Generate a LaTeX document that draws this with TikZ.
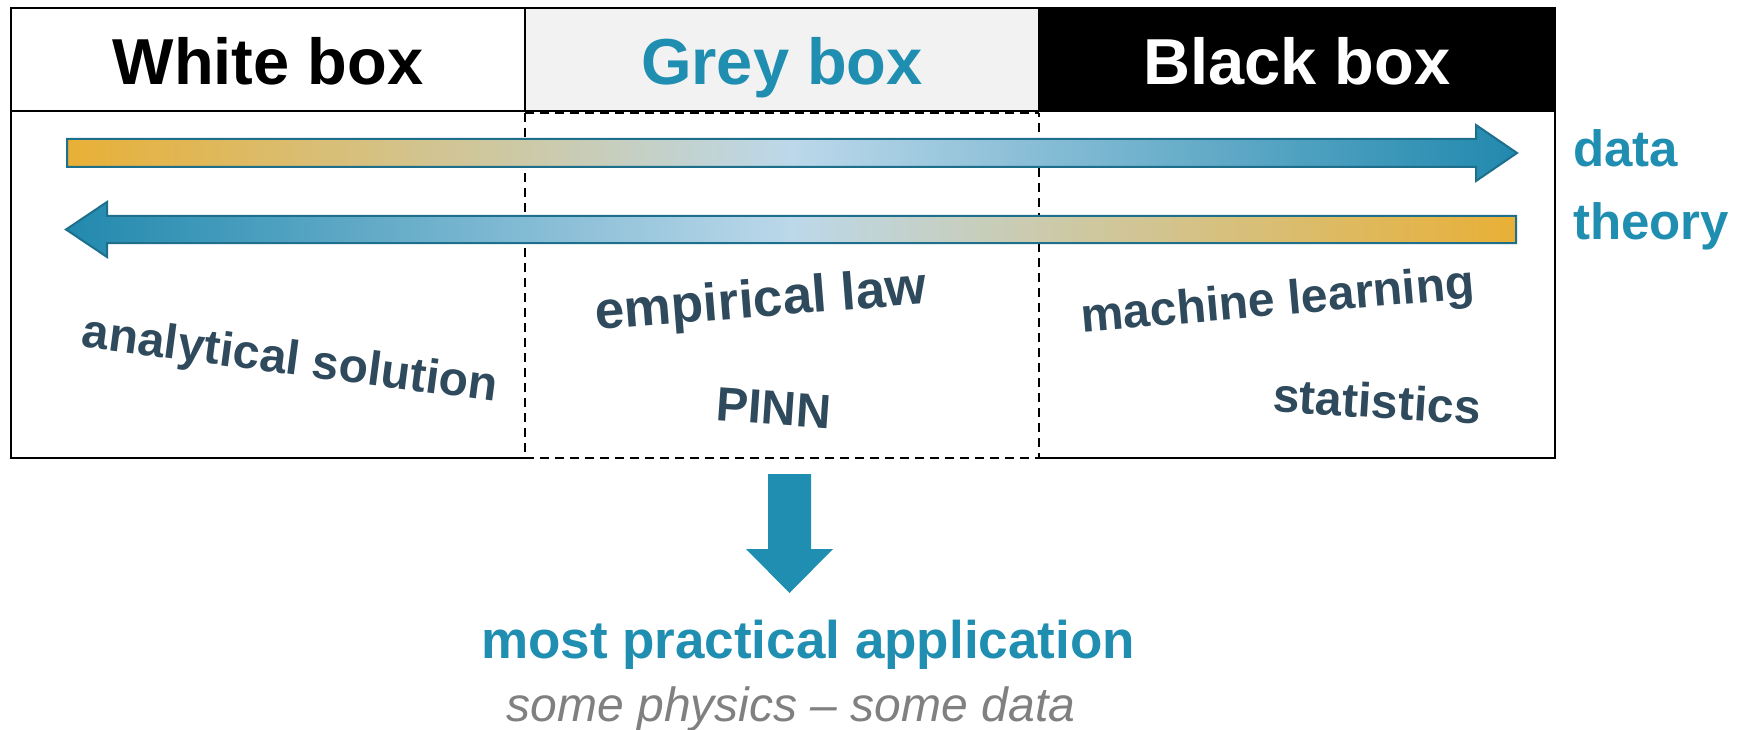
\documentclass[tikz,border=0pt]{standalone}
\usepackage{fontspec}
\setmainfont{Liberation Sans}
\definecolor{accent}{HTML}{1F8EB1}
\definecolor{slate}{HTML}{2E4A5C}
\definecolor{ochre}{HTML}{E8B036}
\definecolor{mist}{HTML}{BCD8EA}
\definecolor{deepsea}{HTML}{2189AE}
\definecolor{rim}{HTML}{1D6F8C}
\definecolor{paper}{HTML}{F2F2F2}
\definecolor{note}{HTML}{808080}
\tikzset{
  frame/.style={line width=2pt, black},
  divider/.style={line width=2pt, black, dash pattern=on 9pt off 6pt},
  headtext/.style={font=\fontsize{65}{78}\selectfont\bfseries, anchor=base, inner sep=0pt},
  sidetext/.style={font=\fontsize{51}{60}\selectfont\bfseries, text=accent, anchor=base west, inner sep=0pt},
  method/.style={font=\fontsize{48}{56}\selectfont\bfseries, text=slate, inner sep=0pt},
  flowarrow/.style={line width=2pt, draw=rim, line join=miter},
}
\begin{document}
\begin{tikzpicture}[x=1pt, y=-1pt]
\useasboundingbox (0,0) rectangle (1745,730);

% header cells
\fill[paper] (525,8) rectangle (1039,111);
\fill[black] (1039,8) rectangle (1555,111);
\node[headtext] (white) at (268,85) {White box};
\node[headtext, text=accent] (grey) at (782,85) {Grey box};
\node[headtext, text=white] (black) at (1297,85) {Black box};

% solid frame
\draw[frame] (525,458) -- (11,458) -- (11,8) -- (1555,8) -- (1555,458) -- (1039,458);
\draw[frame] (11,111) -- (1555,111);
\draw[frame] (525,8) -- (525,111);
\draw[frame] (1039,8) -- (1039,111);

% dashed grey-box body
\draw[divider] (525,113) -- (525,458) -- (1039,458) -- (1039,113);
\draw[divider] (525,113) -- (1039,113);

% data arrow (left to right)
\shadedraw[flowarrow, left color=ochre, right color=deepsea, middle color=mist]
  (67,139) -- (1476,139) -- (1476,125) -- (1517,153) -- (1476,181)
  -- (1476,167) -- (67,167) -- cycle;
% theory arrow (right to left)
\shadedraw[flowarrow, left color=deepsea, right color=ochre, middle color=mist]
  (1516,216) -- (107,216) -- (107,202) -- (66,229.5) -- (107,257)
  -- (107,243) -- (1516,243) -- cycle;

\node[sidetext] (data) at (1573,167) {data};
\node[sidetext] (theory) at (1573,240) {theory};

% methods
\node[method, rotate=-7.5] (analytical) at (290,362) {analytical solution};
\node[method, rotate=4.5, font=\fontsize{53}{60}\selectfont\bfseries] (empirical) at (761,303) {empirical law};
\node[method, rotate=-4] (pinn) at (774,408) {PINN};
\node[method, rotate=5] (ml) at (1278,303) {machine learning};
\node[method, rotate=-3.5] (stats) at (1377,401) {statistics};

% down arrow to the conclusion
\fill[accent] (768,474) -- (811,474) -- (811,549) -- (833,549) -- (789.5,593)
  -- (746,549) -- (768,549) -- cycle;

\node[font=\fontsize{53}{62}\selectfont\bfseries, text=accent, anchor=base, inner sep=0pt]
  (practical) at (808,658) {most practical application};
\node[font=\fontsize{48}{56}\selectfont\itshape, text=note, anchor=base, inner sep=0pt]
  (mix) at (791,721) {some physics -- some data};
\end{tikzpicture}
\end{document}
